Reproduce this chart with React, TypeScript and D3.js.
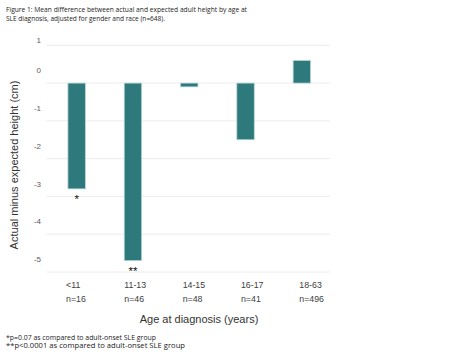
import React from "react";
import * as d3 from "d3";

const categories = ["<11", "11-13", "14-15", "16-17", "18-63"];
const groupSizes = ["n=16", "n=46", "n=48", "n=41", "n=496"];
const values = [-2.8, -4.7, -0.1, -1.5, 0.6];
const significance = ["*", "**", "", "", ""];
const yTicks = [1, 0, -1, -2, -3, -4, -5];
const titleLines = [
  "Figure 1: Mean difference between actual and expected adult height by age at",
  "SLE diagnosis, adjusted for gender and race (n=648).",
];
const footnotes = [
  "*p=0.07 as compared to adult-onset SLE group",
  "**p<0.0001 as compared to adult-onset SLE group",
];

const W = 470;
const H = 357;

export default function App() {
  const y = d3.scaleLinear().domain([-5, 1]).range([272, 45.3]);
  const x = d3
    .scaleBand<string>()
    .domain(categories)
    .range([48.5, 330])
    .paddingInner(0.69)
    .paddingOuter(0.345);
  const xl = d3.scalePoint<string>().domain(categories).range([66, 299.3]);

  const fill = "#2E797C";
  const stroke = "#b9d7d8";

  return (
    <svg
      width={W}
      height={H}
      style={{ position: "absolute", left: 0, top: 0, background: "#fff" }}
      fontFamily="'Liberation Sans', Arial, sans-serif"
    >
      {titleLines.map((t, i) => (
        <text
          key={i}
          x={6}
          y={9.5 + i * 9.7}
          dominantBaseline="middle"
          fontFamily="'Open Sans', sans-serif"
          fontSize={7.6}
          fill="#222"
          textLength={i === 0 ? 241 : 159}
          lengthAdjust="spacingAndGlyphs"
        >
          {t}
        </text>
      ))}

      {yTicks.map((v) => (
        <line
          key={v}
          x1={46.5}
          x2={330}
          y1={y(v)}
          y2={y(v)}
          stroke="#ececec"
          strokeWidth={1}
        />
      ))}

      {yTicks.map((v) => (
        <text
          key={"t" + v}
          x={41}
          y={y(v) - (v === 1 ? 4.5 : 12)}
          textAnchor="end"
          dominantBaseline="middle"
          fontSize={8}
          fill="#595959"
        >
          {v}
        </text>
      ))}

      {categories.map((c, i) => {
        const v = values[i];
        const y0 = y(Math.max(0, v));
        const y1 = y(Math.min(0, v));
        return (
          <rect
            key={c}
            x={x(c)}
            y={y0}
            width={x.bandwidth()}
            height={y1 - y0}
            fill={fill}
            stroke={stroke}
            strokeWidth={0.8}
          />
        );
      })}

      {categories.map((c, i) =>
        significance[i] ? (
          <text
            key={"s" + c}
            x={(x(c) as number) + x.bandwidth() / 2}
            y={y(Math.min(0, values[i])) + 14}
            textAnchor="middle"
            fontSize={11.5}
            fill="#111"
          >
            {significance[i]}
          </text>
        ) : null
      )}

      {categories.map((c, i) => (
        <g key={"l" + c}>
          <text
            x={xl(c)}
            y={286}
            dominantBaseline="middle"
            fontSize={8.8}
            fill="#404040"
          >
            {c}
          </text>
          <text
            x={xl(c)}
            y={299.3}
            dominantBaseline="middle"
            fontSize={8.8}
            fill="#404040"
          >
            {groupSizes[i]}
          </text>
        </g>
      ))}

      <text
        x={199}
        y={320}
        textAnchor="middle"
        dominantBaseline="middle"
        fontSize={11}
        fill="#333"
      >
        Age at diagnosis (years)
      </text>
      <text
        transform="translate(15,165) rotate(-90)"
        textAnchor="middle"
        dominantBaseline="middle"
        fontSize={11}
        fill="#333"
      >
        Actual minus expected height (cm)
      </text>

      {footnotes.map((t, i) => (
        <text
          key={"f" + i}
          x={6}
          y={338.3 + i * 7.5}
          dominantBaseline="middle"
          fontFamily="'Open Sans', sans-serif"
          fontSize={6.6}
          fill="#222"
          textLength={i === 0 ? 150 : 179}
          lengthAdjust="spacingAndGlyphs"
        >
          {t}
        </text>
      ))}
    </svg>
  );
}
